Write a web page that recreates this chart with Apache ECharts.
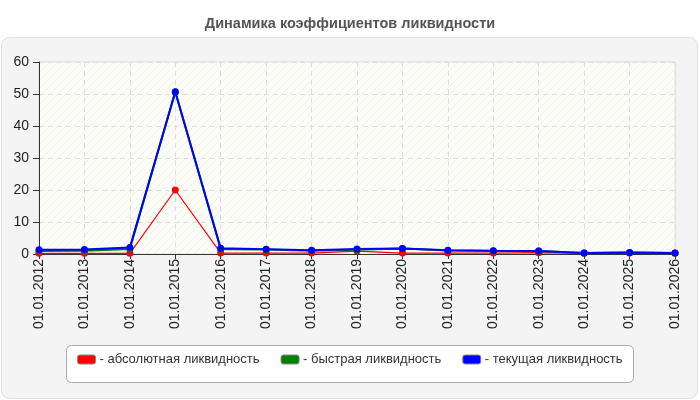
<!DOCTYPE html>
<html>
<head>
<meta charset="utf-8">
<script src="https://cdn.jsdelivr.net/npm/echarts@6/dist/echarts.min.js"></script>
<style>
  html, body { margin: 0; padding: 0; background: #fff; }
  #chart { width: 700px; height: 400px; }
</style>
</head>
<body>
<div id="chart"></div>
<script>
const years = ['01.01.2012', '01.01.2013', '01.01.2014', '01.01.2015', '01.01.2016', '01.01.2017', '01.01.2018',
  '01.01.2019', '01.01.2020', '01.01.2021', '01.01.2022', '01.01.2023', '01.01.2024', '01.01.2025', '01.01.2026']
const absLiq = [0.2, 0.2, 0.2, 20, 0.3, 0.3, 0.3, 0.9, 0.3, 0.3, 0.3, 0.4, 0.2, 0.3, 0.2]
const quickLiq = [0.9, 1.0, 1.6, 50.6, 1.5, 1.4, 1.0, 1.3, 1.7, 1.1, 0.9, 0.9, 0.3, 0.5, 0.3]
const curLiq = [1.3, 1.4, 2.0, 50.7, 1.8, 1.5, 1.2, 1.6, 1.75, 1.2, 1.0, 0.95, 0.35, 0.5, 0.3]

// hatched plot background
const hatch = document.createElement('canvas')
hatch.width = 8
hatch.height = 8
const hc = hatch.getContext('2d')
hc.fillStyle = '#fdfdf8'
hc.fillRect(0, 0, 8, 8)
hc.strokeStyle = '#eeeeea'
hc.lineWidth = 1
hc.beginPath()
hc.moveTo(0, 8); hc.lineTo(8, 0)
hc.moveTo(-4, 4); hc.lineTo(4, -4)
hc.moveTo(4, 12); hc.lineTo(12, 4)
hc.stroke()

const chart = echarts.init(document.getElementById('chart'))

function line(name, data, color, width) {
  return {
    name: '- ' + name,
    type: 'line',
    data: data,
    symbol: 'circle',
    symbolSize: 7,
    showSymbol: true,
    lineStyle: { color: color, width: width },
    itemStyle: { color: color },
    emphasis: { disabled: true }
  }
}

chart.setOption({
  animation: false,
  textStyle: { fontFamily: 'Liberation Sans, Arial, sans-serif' },
  title: {
    text: 'Динамика коэффициентов ликвидности',
    left: 'center',
    top: 11,
    textStyle: { fontSize: 14.5, fontWeight: 'bold', color: '#555' }
  },
  graphic: [{
    type: 'rect',
    z: -10,
    shape: { x: 1.5, y: 37.5, width: 696, height: 361, r: 8 },
    style: { fill: '#f4f4f4', stroke: '#e0e0e0', lineWidth: 1 }
  }, {
    type: 'rect',
    z: -5,
    shape: { x: 66.5, y: 345.5, width: 567, height: 37, r: 5 },
    style: { fill: '#fff', stroke: '#aaa', lineWidth: 1 }
  }],
  grid: {
    left: 39, right: 25, top: 62, bottom: 146,
    show: true,
    backgroundColor: { image: hatch, repeat: 'repeat' },
    borderColor: '#dddddd',
    borderWidth: 1
  },
  legend: {
    left: 77,
    top: 353,
    padding: 0,
    itemGap: 21,
    itemWidth: 18,
    itemHeight: 9,
    icon: 'roundRect',
    itemStyle: { borderColor: '#888', borderWidth: 1 },
    textStyle: { fontSize: 13, color: '#333', padding: [0, 0, 0, -1] },
    data: ['- абсолютная ликвидность', '- быстрая ликвидность', '- текущая ликвидность']
  },
  xAxis: {
    type: 'category',
    data: years,
    boundaryGap: false,
    axisLine: { lineStyle: { color: '#333', width: 1 } },
    axisTick: { alignWithLabel: true, length: 5, lineStyle: { color: '#333' } },
    axisLabel: { rotate: 90, fontSize: 14, color: '#222', margin: 5 },
    splitLine: { show: true, lineStyle: { color: '#dddddd', type: [5, 4] } }
  },
  yAxis: {
    type: 'value',
    min: 0,
    max: 60,
    interval: 10,
    axisLine: { show: true, lineStyle: { color: '#333', width: 1 } },
    axisTick: { show: true, length: 6, lineStyle: { color: '#333' } },
    axisLabel: { fontSize: 14, color: '#222', margin: 10 },
    splitLine: { show: true, lineStyle: { color: '#dddddd', type: [5, 4] } }
  },
  series: [
    line('абсолютная ликвидность', absLiq, '#ff0000', 1.2),
    line('быстрая ликвидность', quickLiq, '#008000', 2),
    line('текущая ликвидность', curLiq, '#0000ff', 2)
  ]
})
</script>
</body>
</html>
